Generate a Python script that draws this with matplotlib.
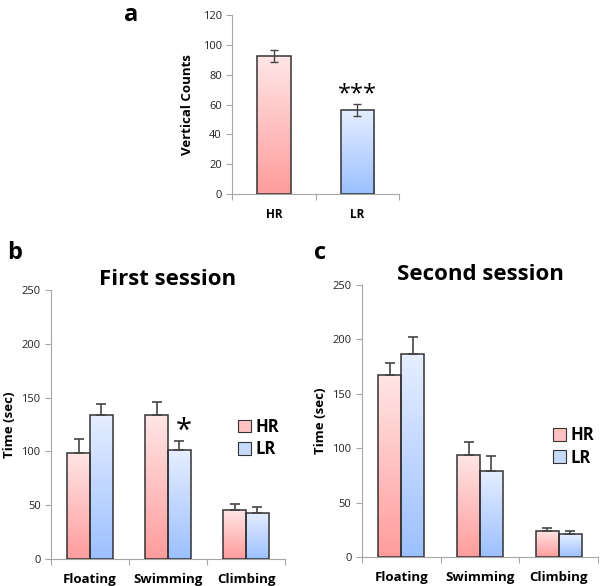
import matplotlib.pyplot as plt
import numpy as np
from matplotlib.patches import Patch

plt.rcParams['font.family'] = ['Open Sans', 'DejaVu Sans']

# panel a data
groups_a = ['HR', 'LR']
counts_a = [92.5, 56.5]
err_a = [4, 4]

# panel b / c data
cats = ['Floating', 'Swimming', 'Climbing']
hr_first = [99, 134, 46]
hr_first_err = [13, 12, 5]
lr_first = [134, 101, 43]
lr_first_err = [10, 9, 5]
hr_second = [167, 94, 24]
hr_second_err = [11, 12, 3]
lr_second = [186, 79, 21]
lr_second_err = [16, 14, 3]

RED = ('#ff9c9c', '#ffe6e6')
BLUE = ('#9cc0ff', '#e6eeff')
GRID = '#a6a6a6'


def grad_bar(ax, x, h, w, cols):
    bar = ax.bar(x, h, w, facecolor='none', edgecolor='#333333', linewidth=1.1, zorder=3)[0]
    c0 = np.array(plt.matplotlib.colors.to_rgb(cols[0]))
    c1 = np.array(plt.matplotlib.colors.to_rgb(cols[1]))
    t = np.linspace(0, 1, 100)[:, None]
    img = (c0 * (1 - t) + c1 * t)[:, None, :]
    im = ax.imshow(img, extent=[x - w / 2, x + w / 2, 0, h], origin='lower',
                   aspect='auto', zorder=2)
    im.set_clip_path(bar)
    return bar


def style(ax, ymax, step, n):
    for s in ['top', 'right']:
        ax.spines[s].set_visible(False)
    for s in ['left', 'bottom']:
        ax.spines[s].set_color(GRID)
    ax.set_ylim(0, ymax)
    ax.set_yticks(np.arange(0, ymax + 1, step))
    ax.set_xlim(0, n)
    ax.set_xticks(np.arange(0, n + 1))
    ax.set_xticklabels([])
    ax.tick_params(axis='both', colors=GRID, labelcolor='#222222', labelsize=8, length=4)
    ax.tick_params(axis='x', which='minor', length=0, pad=10)


fig = plt.figure(figsize=(6, 5.86), dpi=100)

# panel a
ax_a = fig.add_axes([0.387, 0.669, 0.278, 0.305])
style(ax_a, 120, 20, 2)
xa = np.arange(len(groups_a)) + 0.5
for i, (v, e) in enumerate(zip(counts_a, err_a)):
    grad_bar(ax_a, xa[i], v, 0.4, RED if i == 0 else BLUE)
    ax_a.errorbar(xa[i], v, yerr=e, color='#444444', capsize=3, elinewidth=1, capthick=1, zorder=4)
ax_a.set_xticks(xa, minor=True)
ax_a.set_xticklabels(groups_a, minor=True, fontweight='bold', fontsize=8.5)
ax_a.set_ylabel('Vertical Counts', fontweight='bold', fontsize=9.5, labelpad=6)
ax_a.text(xa[1], counts_a[1] + err_a[1] - 2, '***', ha='center', va='bottom', fontsize=17)
fig.text(0.207, 0.975, 'a', fontsize=17, fontweight='bold', ha='left', va='center')


def session_panel(rect, hr, hre, lr, lre, title, letter, letter_pos, leg_pos, tpad, star=None):
    ax = fig.add_axes(rect)
    style(ax, 250, 50, 3)
    w = 0.29
    xc = np.arange(len(cats)) + 0.5
    for i in range(len(cats)):
        grad_bar(ax, xc[i] - w / 2, hr[i], w, RED)
        grad_bar(ax, xc[i] + w / 2, lr[i], w, BLUE)
        ax.errorbar(xc[i] - w / 2, hr[i], yerr=[[0], [hre[i]]], color='#444444',
                    capsize=3.5, elinewidth=1.2, capthick=1.2, zorder=4)
        ax.errorbar(xc[i] + w / 2, lr[i], yerr=[[0], [lre[i]]], color='#444444',
                    capsize=3.5, elinewidth=1.2, capthick=1.2, zorder=4)
    if star is not None:
        ax.text(xc[star] + w / 2 + 0.06, lr[star] + lre[star] - 5, '*', ha='center',
                va='bottom', fontsize=21)
    ax.set_xticks(xc, minor=True)
    ax.set_xticklabels(cats, minor=True, fontweight='bold', fontsize=9.5)
    ax.set_ylabel('Time (sec)', fontweight='bold', fontsize=9.5)
    ax.set_title(title, fontweight='bold', fontsize=16, pad=tpad)
    fig.text(letter_pos[0], letter_pos[1], letter, fontsize=17, fontweight='bold',
             ha='left', va='center')
    handles = [Patch(facecolor='#ffc2c2', edgecolor='#333333', linewidth=0.8),
               Patch(facecolor='#c6dafc', edgecolor='#333333', linewidth=0.8)]
    fig.legend(handles, ['HR', 'LR'], loc='center left', bbox_to_anchor=leg_pos,
               frameon=False, prop={'weight': 'bold', 'size': 12}, borderpad=0,
               handlelength=0.8, handleheight=0.8, handletextpad=0.3, labelspacing=0.25)
    return ax


session_panel([0.085, 0.046, 0.39, 0.459], hr_first, hr_first_err, lr_first, lr_first_err,
              'First session', 'b', (0.012, 0.568), (0.382, 0.2526), 4, star=1)
session_panel([0.603, 0.0495, 0.394, 0.4645], hr_second, hr_second_err, lr_second, lr_second_err,
              'Second session', 'c', (0.523, 0.568), (0.907, 0.238), 1)

fig.savefig('out.png', dpi=100)
